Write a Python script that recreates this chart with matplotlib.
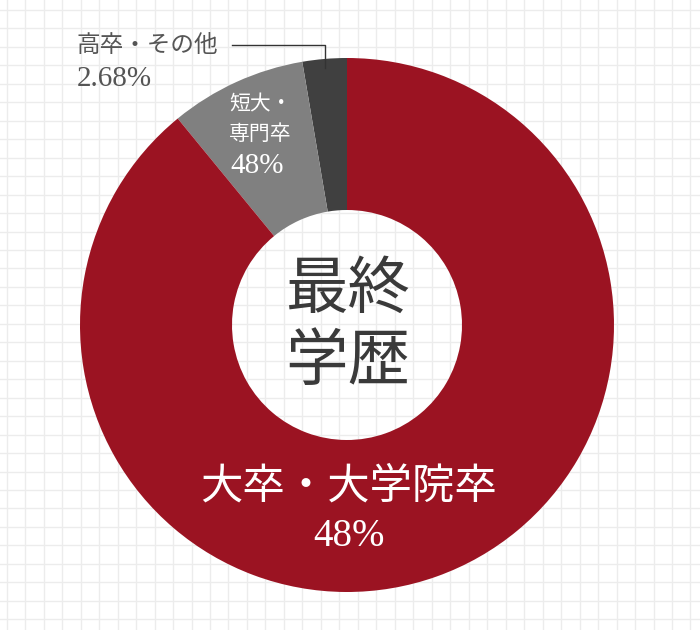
import numpy as np
import matplotlib
matplotlib.use('Agg')
import matplotlib.pyplot as plt

# --- Data ---
categories = ['高卒・その他', '短大・専門卒', '大卒・大学院卒']
shares = [2.68, 8.25, 89.07]          # slice sizes
shown_pct = ['2.68%', '48%', '48%']    # percentages as printed on the chart
colors = ['#404040', '#808080', '#9b1322']

CJK = ['Noto Sans CJK JP', 'DejaVu Sans']
NUM = ['Liberation Serif', 'DejaVu Serif']

W, H = 700, 630
fig = plt.figure(figsize=(W / 100, H / 100), dpi=100)
ax = fig.add_axes([0, 0, 1, 1])
fig.patch.set_facecolor('white')

# background grid paper
for gx in np.arange(6.7, W, 18.48):
    ax.axvline(gx, color='#ececec', lw=1, zorder=0)
for gy in np.arange(10, H, 18.46):
    ax.axhline(H - gy, color='#ececec', lw=1, zorder=0)

cx, cy = 347, H - 325
R, r_in = 267, 115

wedges, _ = ax.pie(shares, colors=colors, startangle=90, counterclock=True,
                   center=(cx, cy), radius=R,
                   wedgeprops={'width': R - r_in, 'linewidth': 0})
for w in wedges:
    w.set_zorder(2)

ax.set_xlim(0, W)
ax.set_ylim(0, H)
ax.set_aspect('equal')
ax.axis('off')

# leader line for the small slice
mid = np.deg2rad(90 + shares[0] / 2 * 3.6)
px, py = cx + 258 * np.cos(mid), cy + 258 * np.sin(mid)
ax.plot([232, px, px], [H - 45, H - 45, py], color='#333333', lw=1, zorder=3)

# labels
ax.text(76, H - 45, categories[0], family=CJK, fontsize=17, color='#555555',
        ha='left', va='center')
ax.text(77, H - 79, shown_pct[0], family=NUM, fontsize=21, color='#555555',
        ha='left', va='center')

ax.text(229, H - 104, '短大・', family=CJK, fontsize=15, color='white',
        ha='left', va='center', zorder=4)
ax.text(229, H - 134, '専門卒', family=CJK, fontsize=15, color='white',
        ha='left', va='center', zorder=4)
ax.text(230, H - 166, shown_pct[1], family=NUM, fontsize=21, color='white',
        ha='left', va='center', zorder=4)

ax.text(349, H - 487, categories[2], family=CJK, fontsize=30.5, color='white',
        ha='center', va='center', zorder=4)
ax.text(349, H - 536, shown_pct[2], family=NUM, fontsize=28, color='white',
        ha='center', va='center', zorder=4)

# center title
ax.text(348, H - 290, '最終', family=CJK, fontsize=45, color='#3a3a3a',
        ha='center', va='center', zorder=4)
ax.text(348, H - 362, '学歴', family=CJK, fontsize=45, color='#3a3a3a',
        ha='center', va='center', zorder=4)

fig.savefig('out.png', dpi=100)
